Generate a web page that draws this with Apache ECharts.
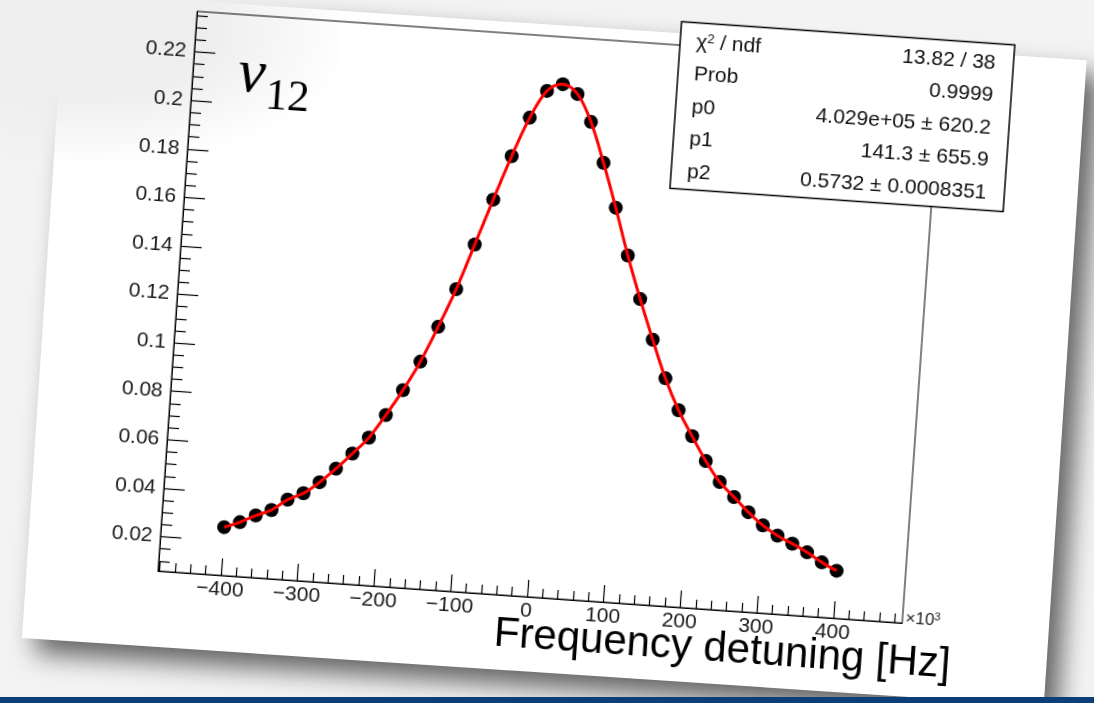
<!DOCTYPE html>
<html><head><meta charset="utf-8">
<script src="https://cdn.jsdelivr.net/npm/echarts@6/dist/echarts.min.js"></script>
<style>
html,body{margin:0;padding:0;width:1094px;height:703px;overflow:hidden;background:#f3f3f3;}
#card{position:absolute;left:22px;top:-9px;width:1024px;height:647px;background:#fff;transform-origin:0 647px;transform:rotate(3.8deg);box-shadow:14px 14px 26px rgba(0,0,0,0.6);}
#fog{position:absolute;left:0;top:0;width:340px;height:160px;background:radial-gradient(ellipse at 25% 20%, rgba(238,238,238,1) 35%, rgba(238,238,238,0) 75%);}
#chart{position:absolute;left:78px;top:-30px;width:1000px;height:700px;transform-origin:80px 601px;transform:rotate(4deg);}
#bar{position:absolute;left:0;top:697px;width:1094px;height:6px;background:#0c3e79;}
</style></head>
<body>
<div id="card"></div>
<div id="fog"></div>
<div id="chart"></div>
<div id="bar"></div>
<script>
// ---- data ----
const xValues = [-400,-380,-360,-340,-320,-300,-280,-260,-240,-220,-200,-180,-160,-140,-120,-100,-80,-60,-40,-20,0,20,40,60,80,100,120,140,160,180,200,220,240,260,280,300,320,340,360,380,400];
const yValues = [0.0257,0.0282,0.0314,0.0341,0.0388,0.0419,0.0469,0.0529,0.0596,0.0666,0.0764,0.0871,0.0993,0.1141,0.1301,0.1489,0.1679,0.1863,0.2026,0.2141,0.2173,0.2137,0.2026,0.1862,0.1681,0.1488,0.1313,0.1150,0.0995,0.0868,0.0765,0.0667,0.0585,0.0527,0.0469,0.0419,0.0381,0.0352,0.0321,0.0284,0.0254];
const xMajorTicks = [-400,-300,-200,-100,0,100,200,300,400];
const xMinorTicks = [-480,-460,-440,-420,-380,-360,-340,-320,-280,-260,-240,-220,-180,-160,-140,-120,-80,-60,-40,-20,20,40,60,80,120,140,160,180,220,240,260,280,320,340,360,380,420,440,460,480];
const yMajorTicks = [0.02,0.04,0.06,0.08,0.1,0.12,0.14,0.16,0.18,0.2,0.22];
const yMinorTicks = [0.01,0.015,0.025,0.03,0.035,0.045,0.05,0.055,0.065,0.07,0.075,0.085,0.09,0.095,0.105,0.11,0.115,0.125,0.13,0.135,0.145,0.15,0.155,0.165,0.17,0.175,0.185,0.19,0.195,0.205,0.21,0.215,0.225,0.23,0.235];
const statLabels = ['χ2 / ndf','Prob','p0','p1','p2'];
const statValues = ['13.82 / 38','0.9999','4.029e+05 ± 620.2','141.3 ± 655.9','0.5732 ± 0.0008351'];
const xTitle = 'Frequency detuning [Hz]';

const FONT = '"Liberation Sans", Arial, Helvetica, sans-serif';
const SERIF = '"Liberation Serif", "Times New Roman", serif';
const points = xValues.map((x,i)=>[x,yValues[i]]);

const tickLine = {color:'#000', width:1.2};
const chart = echarts.init(document.getElementById('chart'), null, {renderer:'canvas'});

function txt(x,y,text,opts){
  const st = Object.assign({text:text, fill:'#111', fontFamily:FONT, fontSize:21,
    align:opts.align||'left', verticalAlign:'middle', textAlign:opts.align||'left', textVerticalAlign:'middle'}, opts.style||{});
  return {type:'text', x:x, y:y, z:110, style:st};
}

const graphics = [];
graphics.push({type:'rect', z:100, shape:{x:564,y:16.5,width:334,height:167}, style:{fill:'#fff', stroke:'#000', lineWidth:1.5}});
statLabels.forEach((l,i)=>{
  const y = 36 + 32.5*i;
  if (i===0) {
    graphics.push({type:'text', x:580, y:y, z:110, style:{text:'{a|χ}{s|2}{a| / ndf}', fill:'#111', align:'left', verticalAlign:'middle', textAlign:'left', textVerticalAlign:'middle',
      rich:{a:{fontSize:21, fontFamily:FONT, fill:'#111'}, s:{fontSize:13, fontFamily:FONT, fill:'#111', verticalAlign:'top'}}}});
  } else {
    graphics.push(txt(580,y,l,{align:'left'}));
  }
  graphics.push(txt(880,y,statValues[i],{align:'right'}));
});
graphics.push({type:'text', x:139, y:100, z:110, style:{text:'ν', fill:'#000', fontFamily:SERIF, fontStyle:'italic', fontSize:62, align:'center', verticalAlign:'middle', textAlign:'center', textVerticalAlign:'middle'}});
graphics.push({type:'text', x:176, y:120, z:110, style:{text:'12', fill:'#000', fontFamily:SERIF, fontSize:44, align:'center', verticalAlign:'middle', textAlign:'center', textVerticalAlign:'middle'}});
graphics.push(txt(877,640,xTitle,{align:'right', style:{fontSize:42, fill:'#000'}}));
graphics.push({type:'text', x:829, y:596, z:110, style:{text:'{a|×10}{s|3}', fill:'#222', align:'left', verticalAlign:'middle', textAlign:'left', textVerticalAlign:'middle',
  rich:{a:{fontSize:17, fontFamily:FONT, fill:'#222'}, s:{fontSize:11, fontFamily:FONT, fill:'#222', verticalAlign:'top'}}}});

const option = {
  animation:false,
  grid:{left:80, top:40, width:746, height:561, show:true, borderColor:'#000', borderWidth:1, backgroundColor:'transparent', containLabel:false},
  xAxis:[
    {type:'value', min:-482, max:490, position:'bottom',
     axisLine:{show:true, onZero:false, lineStyle:{color:'#000', width:1}},
     axisTick:{show:true, inside:true, length:17, customValues:xMajorTicks, lineStyle:tickLine},
     axisLabel:{show:true, customValues:xMajorTicks, fontSize:21, color:'#1a1a1a', fontFamily:FONT, margin:4,
       formatter:v=> v<0 ? '−'+Math.abs(v) : String(v)},
     splitLine:{show:false}},
    {type:'value', min:-482, max:490, position:'bottom',
     axisLine:{show:false, onZero:false},
     axisTick:{show:true, inside:true, length:9, customValues:xMinorTicks, lineStyle:tickLine},
     axisLabel:{show:false}, splitLine:{show:false}}
  ],
  yAxis:[
    {type:'value', min:0.0058, max:0.2367, position:'left',
     axisLine:{show:true, onZero:false, lineStyle:{color:'#000', width:1}},
     axisTick:{show:true, inside:true, length:21, customValues:yMajorTicks, lineStyle:tickLine},
     axisLabel:{show:true, customValues:yMajorTicks, fontSize:21, color:'#1a1a1a', fontFamily:FONT, margin:8,
       formatter:v=> String(parseFloat(Number(v).toFixed(3)))},
     splitLine:{show:false}},
    {type:'value', min:0.0058, max:0.2367, position:'left',
     axisLine:{show:false, onZero:false},
     axisTick:{show:true, inside:true, length:11, customValues:yMinorTicks, lineStyle:tickLine},
     axisLabel:{show:false}, splitLine:{show:false}}
  ],
  series:[
    {type:'scatter', xAxisIndex:0, yAxisIndex:0, data:points, symbol:'circle', symbolSize:14, itemStyle:{color:'#000', opacity:1}, z:2},
    {type:'line', xAxisIndex:0, yAxisIndex:0, data:points, smooth:0.35, showSymbol:false, lineStyle:{color:'#ff0000', width:3}, z:3}
  ],
  graphic:graphics
};
chart.setOption(option);
</script>
</body></html>
